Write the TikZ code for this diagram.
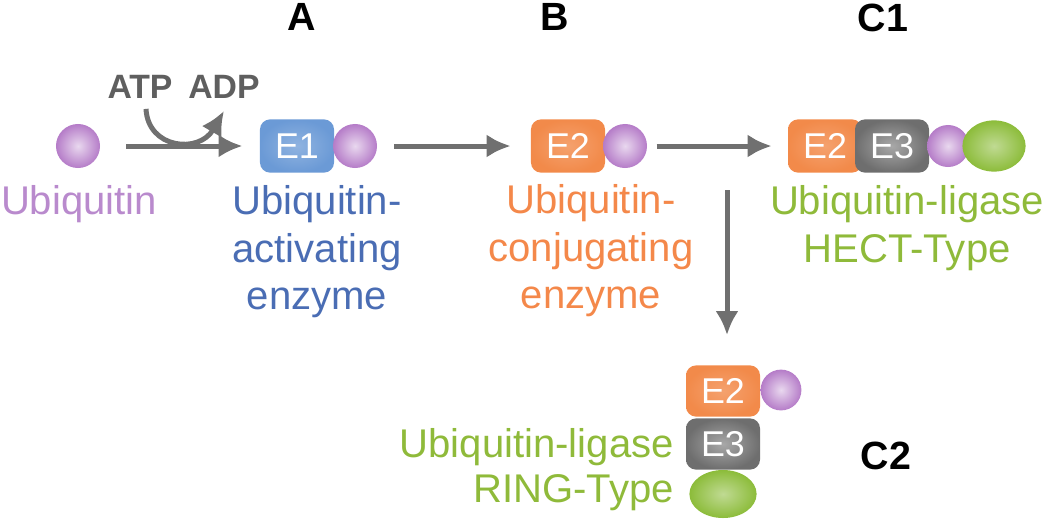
\documentclass[tikz,border=0pt]{standalone}
\usepackage{fontspec}
\setmainfont{Liberation Sans}
\usetikzlibrary{arrows.meta, shapes.geometric}
\definecolor{ubpurple}{HTML}{B57CC8}
\definecolor{ublabel}{HTML}{B98ACD}
\definecolor{eblue}{HTML}{6B9AD6}
\definecolor{bluelabel}{HTML}{4A6DB4}
\definecolor{eorange}{HTML}{F28A4A}
\definecolor{orangelabel}{HTML}{F4884A}
\definecolor{egray}{HTML}{6E6E6E}
\definecolor{egreen}{HTML}{8CBC3A}
\definecolor{greenlabel}{HTML}{8FBA3A}
\definecolor{arrowgray}{HTML}{707070}
\definecolor{atpgray}{HTML}{5F5F5F}
\begin{document}
\begin{tikzpicture}[x=0.025cm, y=-0.025cm,
  ball/.style={circle, minimum size=1.1cm, inner sep=0, shade, inner color=ubpurple!30!white, outer color=ubpurple},
  enzbox/.style={rounded corners=0.25cm, minimum width=1.85cm, minimum height=1.33cm, inner sep=0, text=white, font=\fontsize{25.5}{25.5}\selectfont},
  e1box/.style={enzbox, shade, inner color=eblue!75!white, outer color=eblue},
  e2box/.style={enzbox, shade, inner color=eorange!80!white, outer color=eorange},
  e3box/.style={enzbox, shade, inner color=egray!60!white, outer color=egray},
  ligball/.style={ellipse, minimum width=1.58cm, minimum height=1.28cm, inner sep=0, shade, inner color=egreen!55!white, outer color=egreen},
  lab/.style={align=center, inner sep=0, anchor=north, font=\fontsize{28.5}{34}\selectfont},
  stage/.style={inner sep=0, font=\fontsize{28}{28}\selectfont\bfseries},
  cofactor/.style={inner sep=0, text=atpgray, font=\fontsize{24}{24}\selectfont\bfseries},
  flow/.style={-{Latex[length=0.6cm, width=0.58cm]}, line width=0.125cm, draw=arrowgray}]
\useasboundingbox (0,0) rectangle (1050,520);

\node[stage] (A) at (302,17) {A};
\node[stage] (B) at (555,17) {B};
\node[stage] (C1) at (883,18) {C1};
\node[stage] (C2) at (886,456) {C2};

\node[ball] (ub) at (78,146) {};
\node[lab, text=ublabel] (ublab) at (79,185) {Ubiquitin};

\node[cofactor] (ATP) at (140,87) {ATP};
\node[cofactor] (ADP) at (224,87) {ADP};

\node[e1box] (e1) at (297,146) {E1};
\node[ball] (e1ub) at (355,146) {};
\node[lab, text=bluelabel] (e1lab) at (317,185) {Ubiquitin-\\activating\\enzyme};

\node[e2box] (e2) at (568,146) {E2};
\node[ball] (e2ub) at (625,146) {};
\node[lab, text=orangelabel] (e2lab) at (591,184) {Ubiquitin-\\conjugating\\enzyme};

\node[e2box] (he2) at (825,146) {E2};
\node[e3box] (he3) at (892,146) {E3};
\node[ball, minimum size=1.05cm] (heub) at (948,146) {};
\node[ligball] (hecl) at (994,146) {};
\node[lab, text=greenlabel] (helab) at (907,185) {Ubiquitin-ligase\\HECT-Type};

\node[e2box, minimum height=1.28cm] (re2) at (723,391) {E2};
\node[ball, minimum size=1.02cm] (reub) at (781,390) {};
\node[e3box, minimum height=1.28cm] (re3) at (723,444) {E3};
\node[ligball, minimum width=1.68cm, minimum height=1.2cm] (recl) at (723,494) {};
\node[lab, align=right, anchor=north east, text=greenlabel, font=\fontsize{28.5}{32}\selectfont] (relab) at (674,428) {Ubiquitin-ligase\\RING-Type};

\draw[flow, shorten <=0.65cm, shorten >=0.43cm] (ub) -- (e1);
\draw[flow] ([xshift=0.15cm, yshift=-0.25cm]ATP.south) .. controls +(2,40) and +(-25,43) .. ([xshift=0cm, yshift=-0.3cm]ADP.south);
\draw[flow, shorten <=0.43cm, shorten >=0.5cm] (e1ub) -- (e2);
\draw[flow, shorten <=0.23cm, shorten >=0.4cm] (e2ub) -- (he2);
\draw[flow, shorten >=0.75cm] (727,190) coordinate (split) -- (split |- re2.north);
\end{tikzpicture}
\end{document}
